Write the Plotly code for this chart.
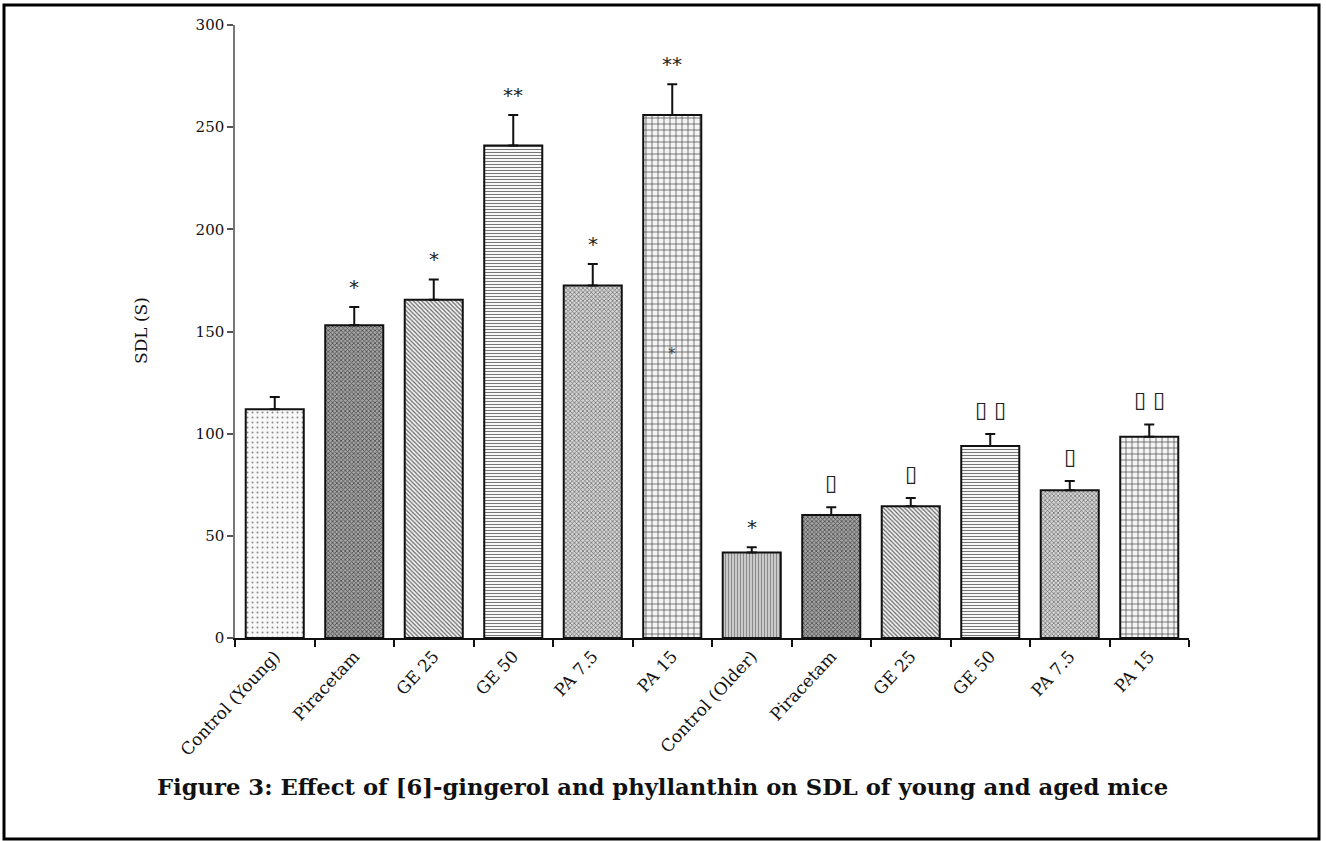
import plotly.graph_objects as go

categories = ["Control (Young)", "Piracetam", "GE 25", "GE 50", "PA 7.5", "PA 15",
              "Control (Older)", "Piracetam", "GE 25", "GE 50", "PA 7.5", "PA 15"]
sdl_mean = [112, 153, 165.5, 241, 172.5, 256, 41.8, 60.2, 64.5, 94, 72.3, 98.5]
sdl_err = [6, 9, 10, 15, 10.5, 15, 2.6, 3.8, 4, 5.8, 4.5, 6]
signif = ["", "*", "*", "**", "*", "**", "*", "▯", "▯", "▯ ▯", "▯", "▯ ▯"]
y_ticks = [0, 50, 100, 150, 200, 250, 300]

# patterns per group (style only)
pat_styles = {
    "Control (Young)": dict(shape=".", fgcolor="#8a8a8a", bgcolor="#f8f8f8", size=5, solidity=0.12),
    "Piracetam": dict(shape="x", fgcolor="#4a4a4a", bgcolor="#a4a4a4", size=3, solidity=0.45),
    "GE 25": dict(shape="\\", fgcolor="#666666", bgcolor="#f4f4f4", size=3, solidity=0.4),
    "GE 50": dict(shape="-", fgcolor="#777777", bgcolor="#f8f8f8", size=3, solidity=0.35),
    "PA 7.5": dict(shape="x", fgcolor="#666666", bgcolor="#d4d4d4", size=3, solidity=0.4),
    "PA 15": dict(shape="+", fgcolor="#444444", bgcolor="#f4f4f4", size=6, solidity=0.22),
    "Control (Older)": dict(shape="|", fgcolor="#8a8a8a", bgcolor="#cacaca", size=3, solidity=0.35),
}

xs = list(range(len(categories)))
SERIF = "DejaVu Serif"

fig = go.Figure()
for i, (cat, m, e) in enumerate(zip(categories, sdl_mean, sdl_err)):
    st = pat_styles[cat]
    fig.add_trace(go.Bar(
        x=[xs[i]], y=[m],
        width=0.73,
        marker=dict(
            color=st["bgcolor"],
            line=dict(color="#111111", width=2),
            pattern=dict(shape=st["shape"], fgcolor=st["fgcolor"], bgcolor=st["bgcolor"],
                         size=st["size"], solidity=st["solidity"], fillmode="replace"),
        ),
        error_y=dict(type="data", array=[e], arrayminus=[0], symmetric=False,
                     color="#111111", thickness=2, width=5),
        showlegend=False,
        hoverinfo="skip",
    ))

for x, m, e, s in zip(xs, sdl_mean, sdl_err, signif):
    if not s:
        continue
    is_star = "*" in s
    fig.add_annotation(
        x=x, y=m + e, text=s, showarrow=False, yanchor="bottom",
        yshift=6 if is_star else 10,
        font=dict(family="DejaVu Sans", size=20 if is_star else 22, color="#222222"),
    )

# stray asterisk inside PA 15 bar
fig.add_annotation(x=5, y=139, text="*", showarrow=False,
                   font=dict(family="DejaVu Sans", size=15, color="#444444"))

W, H = 1326, 841
L, R, T, B = 235, 1189, 25, 638
pw, ph = R - L, B - T

# outer frame
fig.add_shape(type="rect", xref="paper", yref="paper",
              x0=(4 - L) / pw, x1=(1319 - L) / pw,
              y0=(B - 839) / ph, y1=(B - 5) / ph,
              line=dict(color="#000000", width=3), fillcolor="rgba(0,0,0,0)")

fig.add_annotation(
    xref="paper", yref="paper", x=(662 - L) / pw, y=(B - 787) / ph,
    text="<b>Figure 3: Effect of [6]-gingerol and phyllanthin on SDL of young and aged mice</b>",
    showarrow=False, xanchor="center", yanchor="middle",
    font=dict(family=SERIF, size=22.7, color="#111111"),
)

fig.add_annotation(
    xref="paper", yref="paper", x=(141 - L) / pw, y=(B - 331) / ph, text="SDL (S)", textangle=-90,
    showarrow=False, xanchor="center", yanchor="middle",
    font=dict(family=SERIF, size=17, color="#111111"),
)

fig.update_layout(
    width=W, height=H,
    margin=dict(l=L, r=W - R, t=T, b=H - B, pad=0),
    paper_bgcolor="#ffffff", plot_bgcolor="#ffffff",
    barmode="overlay",
    xaxis=dict(
        range=[-0.5, len(categories) - 0.5],
        tickmode="array", tickvals=xs, ticktext=categories, tickangle=-47,
        ticks="", showgrid=False, zeroline=False,
        showline=True, linecolor="#111111", linewidth=1.5,
        tickfont=dict(family=SERIF, size=17, color="#111111"),
        minor=dict(ticks="outside", tick0=-0.5, dtick=1, ticklen=7, tickcolor="#111111",
                   tickwidth=1.5, showgrid=False),
    ),
    yaxis=dict(
        range=[0, 300], tickmode="array", tickvals=y_ticks,
        ticks="outside", ticklen=6, tickcolor="#555555", tickwidth=1.5,
        showgrid=False, zeroline=False,
        showline=True, linecolor="#777777", linewidth=1.5,
        tickfont=dict(family=SERIF, size=15, color="#111111"),
    ),
)

fig.write_html("out.html", config={"displayModeBar": False},
               post_script="document.body.style.margin='0px';")
